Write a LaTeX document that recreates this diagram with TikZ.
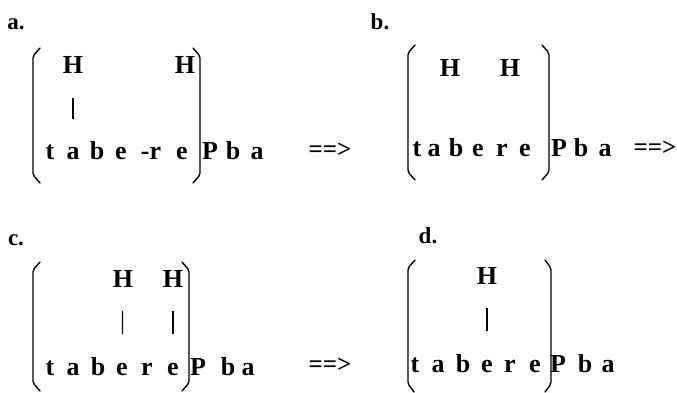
\documentclass[tikz,border=0pt]{standalone}
\usepackage{fontspec}
\setmainfont{Liberation Serif}
\tikzset{chr/.style={anchor=base, inner sep=0pt, text height=17pt, text depth=0pt,
    font=\fontsize{26}{28}\selectfont\bfseries},
  tag/.style={anchor=base, inner sep=0pt, font=\fontsize{23}{25}\selectfont\bfseries},
  yields/.style={inner sep=0pt, font=\fontsize{25}{27}\selectfont\bfseries},
  bond/.style={line width=1.2pt, shorten <=24pt, shorten >=24pt},
  paren/.style={line width=1.4pt, rounded corners=2pt, line cap=round}}

\begin{document}
\begin{tikzpicture}[x=1pt, y=-1pt]
  \useasboundingbox (0,0) rectangle (677,393);
  % a.
  \node[tag] (la) at (16,30) {a.};
  \draw[paren] (40,48) -- (33,56) -- (33,175) -- (40,183);
  \draw[paren] (193,48) -- (200,56) -- (200,175) -- (193,183);
  \node[chr] (aH1) at (73,74) {H};
  \node[chr] (aH2) at (185,74) {H};
  \foreach \ch/\x [count=\i] in {t/50,a/73,b/97,e/121,-r/151,e/182}
    \node[chr] (a\i) at (\x,160) {\ch};
  \foreach \ch/\x [count=\i] in {P/210,b/233,a/257}
    \node[chr] (aP\i) at (\x,160) {\ch};
  \draw[bond] (aH1) -- (a2);
  \node[yields] (ya) at (330,150) {==>};
  % b.
  \node[tag] (lb) at (380,30) {b.};
  \draw[paren] (415,45) -- (408,53) -- (408,172) -- (415,180);
  \draw[paren] (542,45) -- (549,53) -- (549,172) -- (542,180);
  \node[chr] (bH1) at (450,77) {H};
  \node[chr] (bH2) at (510,77) {H};
  \foreach \ch/\x [count=\i] in {t/417,a/434,b/456,e/478,r/502,e/525}
    \node[chr] (b\i) at (\x,157) {\ch};
  \foreach \ch/\x [count=\i] in {P/559,b/581,a/605}
    \node[chr] (bP\i) at (\x,157) {\ch};
  \node[yields] (yb) at (655,148) {==>};
  % c.
  \node[tag] (lc) at (16,245) {c.};
  \draw[paren] (40,262) -- (33,270) -- (33,383) -- (40,391);
  \draw[paren] (182,262) -- (189,270) -- (189,383) -- (182,391);
  \node[chr] (cH1) at (123,287) {H};
  \node[chr] (cH2) at (173,287) {H};
  \foreach \ch/\x [count=\i] in {t/50,a/73,b/98,e/122,r/147,e/173}
    \node[chr] (c\i) at (\x,375) {\ch};
  \foreach \ch/\x [count=\i] in {P/198,b/228,a/248}
    \node[chr] (cP\i) at (\x,375) {\ch};
  \draw[bond] (cH1) -- (c4);
  \draw[bond] (cH2) -- (c6);
  \node[yields] (yc) at (330,365) {==>};
  % d.
  \node[tag] (ld) at (428,243) {d.};
  \draw[paren] (415,260) -- (408,268) -- (408,384) -- (414,392);
  \draw[paren] (545,260) -- (551,268) -- (551,384) -- (545,392);
  \node[chr] (dH1) at (487,284) {H};
  \foreach \ch/\x [count=\i] in {t/415,a/438,b/463,e/487,r/510,e/535}
    \node[chr] (d\i) at (\x,372) {\ch};
  \foreach \ch/\x [count=\i] in {P/558,b/585,a/608}
    \node[chr] (dP\i) at (\x,372) {\ch};
  \draw[bond] (dH1) -- (d4);
\end{tikzpicture}
\end{document}
